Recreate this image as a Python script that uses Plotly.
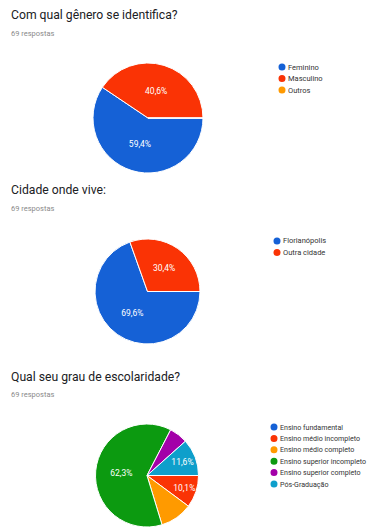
import plotly.graph_objects as go

W, H = 369, 527

# ---- data ----
q1_title = "Com qual gênero se identifica?"
q1_labels = ["Feminino", "Masculino", "Outros"]
q1_values = [41, 28, 0]

q2_title = "Cidade onde vive:"
q2_labels = ["Florianópolis", "Outra cidade"]
q2_values = [48, 21]

q3_title = "Qual seu grau de escolaridade?"
q3_labels = ["Ensino fundamental", "Ensino médio incompleto", "Ensino médio completo",
             "Ensino superior incompleto", "Ensino superior completo", "Pós-Graduação"]
q3_values = [0, 7, 7, 43, 4, 8]
q3_show_label = [False, True, False, True, False, True]

responses_text = "69 respostas"

palette = ["#1561D6", "#FA3305", "#FF9A00", "#0C9A10", "#A300A8", "#0E9FCB"]

def fx(px):
    return px / W

def fy(py):
    return 1 - py / H

fig = go.Figure()

def add_pie(labels, values, cx, cy, r, templates=None, bottom_clip=None):
    x0, x1 = cx - r, cx + r
    y_top, y_bot = cy - r, cy + r
    if bottom_clip is not None:
        y_bot = min(y_bot, bottom_clip)
    fig.add_trace(go.Pie(
        labels=labels, values=values, sort=False, direction="clockwise",
        rotation=90,
        marker=dict(colors=palette[:len(labels)], line=dict(color="white", width=1)),
        texttemplate=templates if templates is not None else "%{percent:.1%}",
        textposition="inside", insidetextorientation="horizontal",
        textfont=dict(color="white", size=8.5, family="Roboto"),
        showlegend=False, hoverinfo="label+percent",
        domain=dict(x=[fx(x0), fx(x1)], y=[fy(y_bot), fy(y_top)]),
    ))

add_pie(q1_labels, q1_values, 148, 118, 55)
add_pie(q2_labels, q2_values, 147.5, 291.5, 52.5)
add_pie(q3_labels, q3_values, 147, 477, 53,
        templates=["%{percent:.1%}" if s else "" for s in q3_show_label],
        bottom_clip=H)

annotations = []
shapes = []

def add_header(title, ty, ry):
    annotations.append(dict(text=title, x=fx(9), y=fy(ty), xref="paper", yref="paper",
                            xanchor="left", yanchor="middle", showarrow=False,
                            font=dict(size=12.2, color="#202124", family="Roboto")))
    annotations.append(dict(text=responses_text, x=fx(9), y=fy(ry), xref="paper", yref="paper",
                            xanchor="left", yanchor="middle", showarrow=False,
                            font=dict(size=7.5, color="#8a8a8a", family="Roboto")))

def add_legend(labels, mx, tx, y0, dy, size=7.5):
    for i, lab in enumerate(labels):
        y = y0 + i * dy
        shapes.append(dict(type="circle", xref="paper", yref="paper",
                           xsizemode="pixel", ysizemode="pixel",
                           xanchor=fx(mx), yanchor=fy(y),
                           x0=-3.5, x1=3.5, y0=-3.5, y1=3.5,
                           fillcolor=palette[i], line=dict(width=0)))
        annotations.append(dict(text=lab, x=fx(tx), y=fy(y), xref="paper", yref="paper",
                                xanchor="left", yanchor="middle", showarrow=False,
                                font=dict(size=size, color="#333333", family="Roboto")))

add_header(q1_title, 15, 33)
add_header(q2_title, 190, 208)
add_header(q3_title, 377, 394)

add_legend(q1_labels, 282, 286, 67, 11.5)
add_legend(q2_labels, 277, 281, 241, 11.5)
add_legend(q3_labels, 274, 278, 427, 11.4, size=7.1)

fig.update_layout(
    width=W, height=H,
    margin=dict(l=0, r=0, t=0, b=0),
    paper_bgcolor="white", plot_bgcolor="white",
    separators=",.",
    annotations=annotations, shapes=shapes,
    font=dict(family="Roboto"),
)

fig.write_html("out.html")
